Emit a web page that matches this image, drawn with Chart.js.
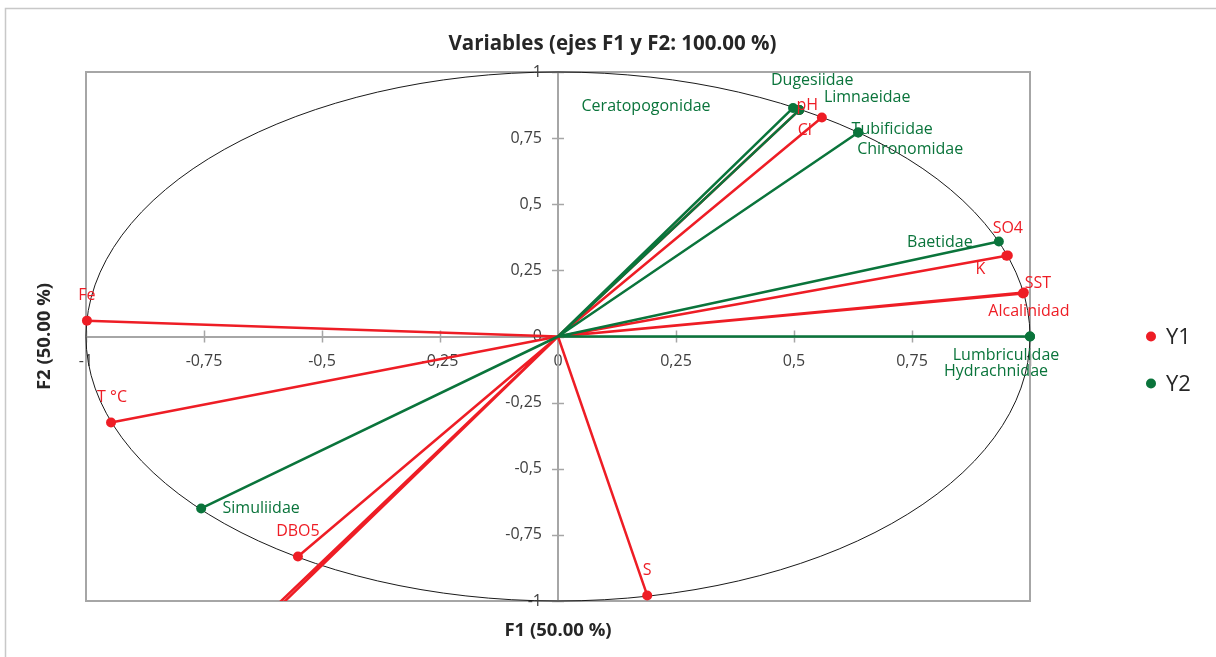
<!DOCTYPE html>
<html>
<head>
<meta charset="utf-8">
<title>Variables (ejes F1 y F2)</title>
<script src="https://cdn.jsdelivr.net/npm/chart.js@4.4.1/dist/chart.umd.min.js"></script>
<style>
  html, body { margin: 0; padding: 0; background: #fff; }
  #wrap { width: 1216px; height: 657px; }
</style>
</head>
<body>
<div id="wrap"><canvas id="pcaChart" width="1216" height="657"></canvas></div>
<script>
// Correlation circle data (F1, F2 loadings)
const Y1_NAMES = ["Fe", "T °C", "DBO5", "S", "Cl", "pH", "SO4", "K", "SST", "Alcalinidad", "", ""];
const Y1_F1 = [-0.998, -0.947, -0.551, 0.189, 0.559, 0.511, 0.953, 0.950, 0.987, 0.985, -0.616, -0.607];
const Y1_F2 = [0.060, -0.325, -0.832, -0.979, 0.828, 0.856, 0.306, 0.305, 0.166, 0.163, -1.05, -1.05];

const Y2_NAMES = ["Ceratopogonidae", "Dugesiidae", "Limnaeidae", "Tubificidae", "Chironomidae", "Baetidae", "Lumbriculidae", "Hydrachnidae", "Simuliidae"];
const Y2_F1 = [0.498, 0.511, 0.511, 0.636, 0.636, 0.934, 1.0, 1.0, -0.756];
const Y2_F2 = [0.864, 0.856, 0.856, 0.771, 0.771, 0.359, 0.0, 0.0, -0.650];

const SERIES_NAMES = ["Y1", "Y2"];
const TICK_MIN = -1;
const TICK_MAX = 1;
const TICK_STEP = 0.25;

const CHART_TITLE = "Variables (ejes F1 y F2: 100.00 %)";
const X_TITLE = "F1 (50.00 %)";
const Y_TITLE = "F2 (50.00 %)";

const RED = "#ee1d25";
const GREEN = "#0a743b";
const AXIS_GREY = "#a6a6a6";
const FONT = "'Open Sans', 'DejaVu Sans', sans-serif";

// label placement relative to the point (pixels), to mimic the manual layout
const LABEL_OFFSETS = {
  "Fe": [0, -25], "T °C": [1, -25], "DBO5": [0, -25], "S": [0, -25],
  "Cl": [-17, 13], "pH": [8, -5], "SO4": [0, -27], "K": [-26, 14],
  "SST": [14, -9], "Alcalinidad": [6, 18],
  "Ceratopogonidae": [-147, -2], "Dugesiidae": [13, -30], "Limnaeidae": [68, -13],
  "Tubificidae": [34, -3], "Chironomidae": [52, 17], "Baetidae": [-59, 1],
  "Lumbriculidae": [-24, 19], "Hydrachnidae": [-34, 35], "Simuliidae": [60, 0]
};

const fmtTick = v => String(v).replace(".", ",");

// each vector: origin -> point, then a gap
function vectorData(f1, f2) {
  const pts = [];
  f1.forEach((x, i) => {
    pts.push({ x: 0, y: 0 });
    pts.push({ x: x, y: f2[i] });
    pts.push({ x: null, y: null });
  });
  return pts;
}

const pointRadius = ctx => (ctx.index % 3 === 1 ? 5 : 0);

const decorPlugin = {
  id: "decor",
  beforeDraw(chart) {
    const c = chart.ctx;
    c.save();
    c.fillStyle = "#fff";
    c.fillRect(0, 0, chart.width, chart.height);
    c.strokeStyle = "#c8c8c8";
    c.lineWidth = 1.5;
    c.strokeRect(5.5, 8.5, chart.width + 20, chart.height + 20);
    c.restore();
  },
  beforeDatasetsDraw(chart) {
    const { ctx: c, chartArea: a, scales: { x, y } } = chart;
    const cx = x.getPixelForValue(0), cy = y.getPixelForValue(0);
    c.save();
    c.strokeStyle = AXIS_GREY;
    c.lineWidth = 2;
    c.strokeRect(a.left, a.top, a.right - a.left, a.bottom - a.top);
    // cross tick marks on both axes
    c.lineWidth = 1.5;
    c.beginPath();
    x.ticks.forEach(t => {
      const px = Math.round(x.getPixelForValue(t.value)) + 0.5;
      c.moveTo(px, cy - 6);
      c.lineTo(px, cy + 6);
    });
    y.ticks.forEach(t => {
      const py = Math.round(y.getPixelForValue(t.value)) + 0.5;
      c.moveTo(cx - 6, py);
      c.lineTo(cx + 6, py);
    });
    c.stroke();
    // unit circle
    c.beginPath();
    c.ellipse(cx, cy, x.getPixelForValue(1) - cx, cy - y.getPixelForValue(1), 0, 0, Math.PI * 2);
    c.strokeStyle = "#1a1a1a";
    c.lineWidth = 1;
    c.stroke();
    // y tick labels, left of the centred axis
    c.fillStyle = "#404040";
    c.font = "16px " + FONT;
    c.textAlign = "right";
    c.textBaseline = "middle";
    y.ticks.forEach(t => {
      c.fillText(fmtTick(t.value), cx - 16, y.getPixelForValue(t.value));
    });
    c.restore();
  },
  afterDatasetsDraw(chart) {
    const { ctx: c, scales: { x, y } } = chart;
    const groups = [
      [Y1_NAMES, Y1_F1, Y1_F2, RED],
      [Y2_NAMES, Y2_F1, Y2_F2, GREEN]
    ];
    c.save();
    c.font = "16px " + FONT;
    c.textAlign = "center";
    c.textBaseline = "middle";
    groups.forEach(([names, f1, f2, color]) => {
      c.fillStyle = color;
      names.forEach((name, i) => {
        if (!name) return;
        const off = LABEL_OFFSETS[name] || [0, -25];
        c.fillText(name, x.getPixelForValue(f1[i]) + off[0], y.getPixelForValue(f2[i]) + off[1]);
      });
    });
    c.restore();
  },
  afterDraw(chart) {
    const { ctx: c, chartArea: a, scales: { x, y } } = chart;
    c.save();
    c.fillStyle = "#262626";
    c.textAlign = "center";
    c.textBaseline = "middle";
    // chart title, centred on the outer frame
    c.font = "bold 20.5px " + FONT;
    c.fillText(CHART_TITLE, (5 + chart.width) / 2 + 2, a.top - 28);
    // axis titles
    c.font = "bold 18.5px " + FONT;
    c.fillText(X_TITLE, x.getPixelForValue(0), a.bottom + 30);
    c.translate(45, y.getPixelForValue(0));
    c.rotate(-Math.PI / 2);
    c.fillText(Y_TITLE, 0, 0);
    c.restore();

    // legend
    c.save();
    c.font = "22px " + FONT;
    c.textBaseline = "middle";
    c.textAlign = "left";
    SERIES_NAMES.forEach((name, i) => {
      const ly = y.getPixelForValue(0) + i * 47;
      c.beginPath();
      c.arc(a.right + 121, ly, 5, 0, Math.PI * 2);
      c.fillStyle = i === 0 ? RED : GREEN;
      c.fill();
      c.fillStyle = "#262626";
      c.fillText(name, a.right + 136, ly + 1);
    });
    c.restore();
  }
};

const vectorStyle = {
  showLine: true,
  spanGaps: false,
  borderWidth: 2.5,
  pointRadius: pointRadius,
  pointBorderWidth: 0,
  clip: { left: 8, right: 8, top: 8, bottom: 0 }
};

new Chart(document.getElementById("pcaChart").getContext("2d"), {
  type: "scatter",
  data: {
    datasets: [
      Object.assign({
        label: SERIES_NAMES[1],
        data: vectorData(Y2_F1, Y2_F2),
        borderColor: GREEN,
        backgroundColor: GREEN,
        order: 0
      }, vectorStyle),
      Object.assign({
        label: SERIES_NAMES[0],
        data: vectorData(Y1_F1, Y1_F2),
        borderColor: RED,
        backgroundColor: RED,
        order: 1
      }, vectorStyle)
    ]
  },
  options: {
    responsive: false,
    animation: false,
    events: [],
    layout: { padding: { left: 86, right: 186, top: 72, bottom: 56 } },
    plugins: {
      legend: { display: false },
      tooltip: { enabled: false },
      title: { display: false }
    },
    scales: {
      x: {
        type: "linear",
        min: TICK_MIN,
        max: TICK_MAX,
        position: { y: 0 },
        border: { display: true, color: AXIS_GREY, width: 2 },
        grid: { drawOnChartArea: false, drawTicks: false },
        ticks: {
          stepSize: TICK_STEP,
          color: "#404040",
          padding: 15,
          font: { family: FONT, size: 16 },
          callback: fmtTick
        }
      },
      y: {
        type: "linear",
        min: TICK_MIN,
        max: TICK_MAX,
        position: { x: 0 },
        border: { display: true, color: AXIS_GREY, width: 2 },
        grid: { drawOnChartArea: false, drawTicks: false },
        ticks: { stepSize: TICK_STEP, display: false }
      }
    }
  },
  plugins: [decorPlugin]
});
</script>
</body>
</html>
